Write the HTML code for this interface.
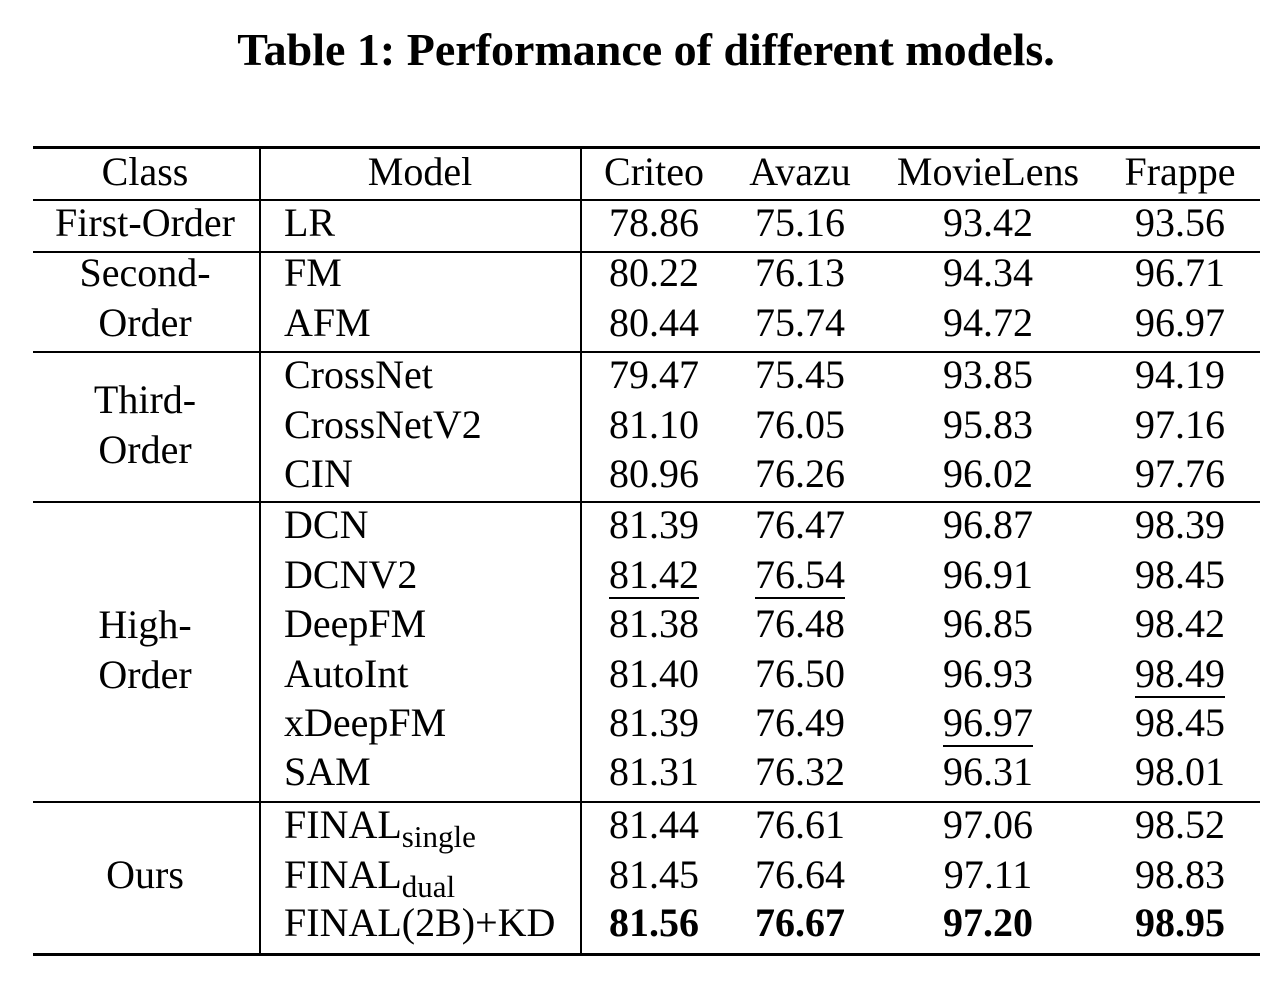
<!DOCTYPE html>
<html><head><meta charset="utf-8"><style>
body{margin:0;width:1274px;height:982px;background:#fff;position:relative;overflow:hidden;font-family:"Liberation Serif",serif;color:#000}
.t{position:absolute;font-size:40px;height:50px;line-height:50px;white-space:nowrap}
.c{transform:translateX(-50%)}
.h{position:absolute;background:#000;left:33px;width:1227px}
.v{position:absolute;background:#000;width:2px;top:149px;height:805px}
.u{text-decoration:underline;text-decoration-thickness:2px;text-underline-offset:9px}
sub{font-size:31px;vertical-align:-9px;line-height:0}
b{font-weight:bold}
</style></head><body>
<div class="t c" style="left:646px;top:25px;font-weight:bold;font-size:46px">Table 1: Performance of different models.</div>
<div class="h" style="top:146px;height:3px"></div>
<div class="h" style="top:199px;height:2px"></div>
<div class="h" style="top:251px;height:2px"></div>
<div class="h" style="top:351px;height:2px"></div>
<div class="h" style="top:501px;height:2px"></div>
<div class="h" style="top:801px;height:2px"></div>
<div class="h" style="top:953px;height:3px"></div>
<div class="v" style="left:259px"></div>
<div class="v" style="left:580px"></div>

<div class="t c" style="left:145px;top:147px">Class</div>
<div class="t c" style="left:420px;top:147px">Model</div>
<div class="t c" style="left:654px;top:147px">Criteo</div>
<div class="t c" style="left:800px;top:147px">Avazu</div>
<div class="t c" style="left:988px;top:147px">MovieLens</div>
<div class="t c" style="left:1180px;top:147px">Frappe</div>

<div class="t c" style="left:145px;top:198px">First-Order</div>
<div class="t c" style="left:145px;top:248px">Second-</div>
<div class="t c" style="left:145px;top:298px">Order</div>
<div class="t c" style="left:145px;top:375px">Third-</div>
<div class="t c" style="left:145px;top:425px">Order</div>
<div class="t c" style="left:145px;top:600px">High-</div>
<div class="t c" style="left:145px;top:650px">Order</div>
<div class="t c" style="left:145px;top:850px">Ours</div>

<div class="t" style="left:284px;top:198px">LR</div>
<div class="t" style="left:284px;top:248px">FM</div>
<div class="t" style="left:284px;top:298px">AFM</div>
<div class="t" style="left:284px;top:350px">CrossNet</div>
<div class="t" style="left:284px;top:400px">CrossNetV2</div>
<div class="t" style="left:284px;top:449px">CIN</div>
<div class="t" style="left:284px;top:500px">DCN</div>
<div class="t" style="left:284px;top:550px">DCNV2</div>
<div class="t" style="left:284px;top:599px">DeepFM</div>
<div class="t" style="left:284px;top:649px">AutoInt</div>
<div class="t" style="left:284px;top:698px">xDeepFM</div>
<div class="t" style="left:284px;top:747px">SAM</div>
<div class="t" style="left:284px;top:800px">FINAL<sub>single</sub></div>
<div class="t" style="left:284px;top:850px">FINAL<sub>dual</sub></div>
<div class="t" style="left:284px;top:898px">FINAL(2B)+KD</div>

<div class="t c" style="left:654px;top:198px">78.86</div><div class="t c" style="left:800px;top:198px">75.16</div><div class="t c" style="left:988px;top:198px">93.42</div><div class="t c" style="left:1180px;top:198px">93.56</div>
<div class="t c" style="left:654px;top:248px">80.22</div><div class="t c" style="left:800px;top:248px">76.13</div><div class="t c" style="left:988px;top:248px">94.34</div><div class="t c" style="left:1180px;top:248px">96.71</div>
<div class="t c" style="left:654px;top:298px">80.44</div><div class="t c" style="left:800px;top:298px">75.74</div><div class="t c" style="left:988px;top:298px">94.72</div><div class="t c" style="left:1180px;top:298px">96.97</div>
<div class="t c" style="left:654px;top:350px">79.47</div><div class="t c" style="left:800px;top:350px">75.45</div><div class="t c" style="left:988px;top:350px">93.85</div><div class="t c" style="left:1180px;top:350px">94.19</div>
<div class="t c" style="left:654px;top:400px">81.10</div><div class="t c" style="left:800px;top:400px">76.05</div><div class="t c" style="left:988px;top:400px">95.83</div><div class="t c" style="left:1180px;top:400px">97.16</div>
<div class="t c" style="left:654px;top:449px">80.96</div><div class="t c" style="left:800px;top:449px">76.26</div><div class="t c" style="left:988px;top:449px">96.02</div><div class="t c" style="left:1180px;top:449px">97.76</div>
<div class="t c" style="left:654px;top:500px">81.39</div><div class="t c" style="left:800px;top:500px">76.47</div><div class="t c" style="left:988px;top:500px">96.87</div><div class="t c" style="left:1180px;top:500px">98.39</div>
<div class="t c u" style="left:654px;top:550px">81.42</div><div class="t c u" style="left:800px;top:550px">76.54</div><div class="t c" style="left:988px;top:550px">96.91</div><div class="t c" style="left:1180px;top:550px">98.45</div>
<div class="t c" style="left:654px;top:599px">81.38</div><div class="t c" style="left:800px;top:599px">76.48</div><div class="t c" style="left:988px;top:599px">96.85</div><div class="t c" style="left:1180px;top:599px">98.42</div>
<div class="t c" style="left:654px;top:649px">81.40</div><div class="t c" style="left:800px;top:649px">76.50</div><div class="t c" style="left:988px;top:649px">96.93</div><div class="t c u" style="left:1180px;top:649px">98.49</div>
<div class="t c" style="left:654px;top:698px">81.39</div><div class="t c" style="left:800px;top:698px">76.49</div><div class="t c u" style="left:988px;top:698px">96.97</div><div class="t c" style="left:1180px;top:698px">98.45</div>
<div class="t c" style="left:654px;top:747px">81.31</div><div class="t c" style="left:800px;top:747px">76.32</div><div class="t c" style="left:988px;top:747px">96.31</div><div class="t c" style="left:1180px;top:747px">98.01</div>
<div class="t c" style="left:654px;top:800px">81.44</div><div class="t c" style="left:800px;top:800px">76.61</div><div class="t c" style="left:988px;top:800px">97.06</div><div class="t c" style="left:1180px;top:800px">98.52</div>
<div class="t c" style="left:654px;top:850px">81.45</div><div class="t c" style="left:800px;top:850px">76.64</div><div class="t c" style="left:988px;top:850px">97.11</div><div class="t c" style="left:1180px;top:850px">98.83</div>
<div class="t c" style="left:654px;top:898px"><b>81.56</b></div><div class="t c" style="left:800px;top:898px"><b>76.67</b></div><div class="t c" style="left:988px;top:898px"><b>97.20</b></div><div class="t c" style="left:1180px;top:898px"><b>98.95</b></div>
</body></html>
